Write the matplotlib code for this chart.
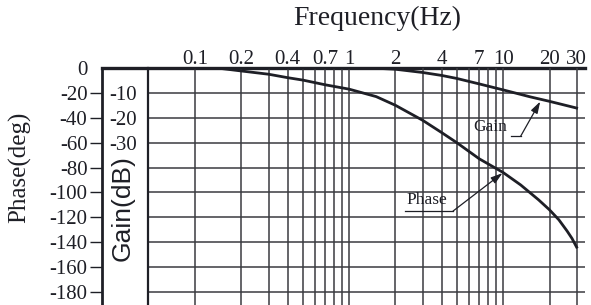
import matplotlib
matplotlib.use("Agg")
import matplotlib.pyplot as plt

# ── data ─────────────────────────────────────────────────────────────────────

freq_phase = [0.05, 0.1, 0.15, 0.2, 0.3, 0.4, 0.5, 0.7, 1, 1.5, 2, 3, 4, 5,
              7, 10, 13, 17, 20, 23, 26, 28, 30]
phase_deg = [0, 0, -0.5, -2.4, -5, -7.8, -9.7, -13.5, -17, -23, -30, -42, -52,
             -60, -73, -84, -94, -106, -114, -122, -131, -137, -144]

freq_gain = [0.05, 0.5, 1, 1.5, 2, 3, 4, 5, 7, 10, 15, 20, 30]
gain_db = [0, 0, 0, -0.1, -0.5, -1.8, -3.0, -4.2, -6.4, -8.8, -11.6, -13.4, -16.1]

grid_freqs = [0.1, 0.2, 0.3, 0.4, 0.5, 0.6, 0.7, 0.8, 0.9,
              1, 2, 3, 4, 5, 6, 7, 8, 9, 10, 20, 30]
freq_labels = {0.1: "0.1", 0.2: "0.2", 0.4: "0.4", 0.7: "0.7", 1: "1",
               2: "2", 4: "4", 7: "7", 10: "10", 20: "20", 30: "30"}

phase_ticks = [0, -20, -40, -60, -80, -100, -120, -140, -160, -180]
gain_ticks = [-10, -20, -30]

# ── layout ───────────────────────────────────────────────────────────────────

W, H = 591, 305
SERIF = "Liberation Serif"
INK = "#1e1f26"
GRID = "#3a3b40"
PH_LIM = (-190.5, 0)

fig = plt.figure(figsize=(W / 100, H / 100), dpi=100)

left, inner, right, top = 102 / W, 148 / W, 585 / W, 1 - 68 / H

# outer frame carrying the phase scale
ax_ph = fig.add_axes([left, 0, right - left, top])
ax_ph.set_ylim(*PH_LIM)
ax_ph.set_xticks([])
ax_ph.set_yticks(phase_ticks)
ax_ph.set_yticklabels([str(t) for t in phase_ticks], family=SERIF,
                      fontsize=15, color=INK)
ax_ph.tick_params(axis="y", length=9, width=1.0, pad=1.5, color=INK)
ax_ph.yaxis.get_major_ticks()[0].tick1line.set_visible(False)
for s in ("right", "bottom"):
    ax_ph.spines[s].set_visible(False)
ax_ph.spines["left"].set_linewidth(2.0)
ax_ph.spines["top"].set_linewidth(2.4)
ax_ph.spines["left"].set_color(INK)
ax_ph.spines["top"].set_color(INK)

# data axes (log frequency)
ax = fig.add_axes([inner, 0, right - inner, top])
ax.patch.set_alpha(0)
ax.set_xscale("log")
ax.set_xlim(0.0495, 34)
ax.set_ylim(*PH_LIM)
ax.set_xticks(grid_freqs)
ax.set_xticklabels([freq_labels.get(f, "") for f in grid_freqs],
                   family=SERIF, fontsize=15, color=INK)
ax.xaxis.set_minor_locator(plt.NullLocator())
ax.xaxis.tick_top()
ax.tick_params(axis="x", length=0, pad=-0.5)
ax.set_yticks(phase_ticks[1:])
ax.tick_params(axis="y", length=0, labelleft=False)
ax.grid(True, color=GRID, linewidth=1.1)
for s in ("right", "bottom", "top"):
    ax.spines[s].set_visible(False)
ax.spines["left"].set_linewidth(1.6)
ax.spines["left"].set_color(INK)

ax.plot(freq_phase, phase_deg, color=INK, linewidth=2.0, zorder=5)

# gain scale: 1 dB per 2 deg, labels inside the left column
ax_g = ax.twinx()
ax_g.set_ylim(PH_LIM[0] / 2, PH_LIM[1] / 2)
ax_g.set_yticks(gain_ticks)
ax_g.set_yticklabels([str(t) for t in gain_ticks], family=SERIF,
                     fontsize=15, color=INK)
ax_g.yaxis.set_ticks_position("left")
ax_g.yaxis.set_label_position("left")
ax_g.tick_params(axis="y", length=0, pad=8, labelleft=True, labelright=False)
for s in ax_g.spines.values():
    s.set_visible(False)

ax_g.plot(freq_gain, gain_db, color=INK, linewidth=2.0, zorder=5)

# ── annotations ──────────────────────────────────────────────────────────────

arrow = dict(arrowstyle="-|>,head_length=0.7,head_width=0.22",
             color=INK, lw=0.9, shrinkA=0, shrinkB=0)

ax.text(3.2, -112.5, "Phase", family=SERIF, fontsize=12.5, color=INK,
        ha="center", va="bottom")
ax.plot([2.31, 4.73], [-115, -115], color=INK, linewidth=0.9)
ax.annotate("", xy=(9.9, -84.5), xytext=(4.73, -115), arrowprops=arrow)

ax_g.text(8.2, -27.0, "Gain", family=SERIF, fontsize=12.5, color=INK,
          ha="center", va="bottom")
ax_g.plot([11.3, 13.0], [-27.4, -27.4], color=INK, linewidth=0.9)
ax_g.annotate("", xy=(17.4, -13.5), xytext=(13.0, -27.4), arrowprops=arrow)

# ── axis titles ──────────────────────────────────────────────────────────────

fig.text(377 / W, 1 - 18 / H, "Frequency(Hz)", family=SERIF, fontsize=20,
         color=INK, ha="center", va="center")
fig.text(20 / W, 1 - 167 / H, "Phase(deg)", family=SERIF, fontsize=18,
         color=INK, ha="center", va="center", rotation=90)
fig.text(123 / W, 1 - 208 / H, "Gain(dB)", family="Liberation Sans",
         fontsize=19, color=INK, ha="center", va="center", rotation=90)

fig.savefig("out.png", dpi=100)
